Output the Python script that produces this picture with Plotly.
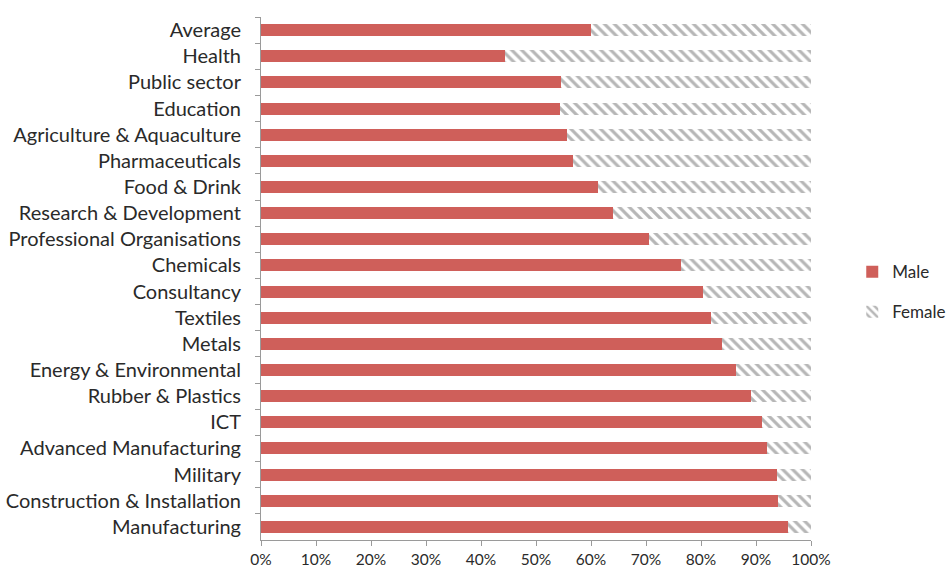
import plotly.graph_objects as go

sectors = ["Average", "Health", "Public sector", "Education", "Agriculture & Aquaculture",
           "Pharmaceuticals", "Food & Drink", "Research & Development",
           "Professional Organisations", "Chemicals", "Consultancy", "Textiles", "Metals",
           "Energy & Environmental", "Rubber & Plastics", "ICT", "Advanced Manufacturing",
           "Military", "Construction & Installation", "Manufacturing"]
male = [60.0, 44.4, 54.5, 54.3, 55.7, 56.7, 61.2, 64.0, 70.5, 76.4, 80.4, 81.9, 83.9,
        86.4, 89.1, 91.1, 92.0, 93.9, 94.0, 95.8]
female = [40.0, 55.6, 45.5, 45.7, 44.3, 43.3, 38.8, 36.0, 29.5, 23.6, 19.6, 18.1, 16.1,
          13.6, 10.9, 8.9, 8.0, 6.1, 6.0, 4.2]
xticks = [0, 10, 20, 30, 40, 50, 60, 70, 80, 90, 100]
xticklabels = [f"{v}%" for v in xticks]

fig = go.Figure()
fig.add_trace(go.Bar(y=sectors, x=male, name="Male", orientation="h", legendgroup="m",
                     marker=dict(color="#CF5F5A", line=dict(width=0))))
fig.add_trace(go.Bar(y=sectors, x=female, name="Female", orientation="h", legendgroup="f",
                     marker=dict(color="white", line=dict(width=0),
                                 pattern=dict(shape="\\", fgcolor="#6e6e6e", bgcolor="white",
                                              size=7, solidity=0.45))))

fig.update_layout(
    width=952, height=576,
    barmode="stack", bargap=0.54,
    margin=dict(l=261, r=141, t=17, b=36, autoexpand=False),
    plot_bgcolor="white", paper_bgcolor="white",
    font=dict(family="Lato", size=20, color="#2a2a2a"),
    legend=dict(x=1.075, y=0.474, xanchor="left", yanchor="middle",
                font=dict(size=17, color="#2a2a2a"), tracegroupgap=15,
                itemwidth=30, traceorder="grouped"),
    showlegend=True,
)
fig.update_xaxes(range=[0, 100], tickvals=xticks, ticktext=xticklabels,
                 showgrid=False, zeroline=False, showline=True, linecolor="#9a9a9a",
                 ticks="outside", ticklen=5, tickcolor="#9a9a9a",
                 tickfont=dict(size=15.5))
fig.update_yaxes(autorange="reversed", showgrid=False, showline=True, linecolor="#9a9a9a",
                 ticks="outside", ticklen=5, tickcolor="#9a9a9a", tickson="boundaries",
                 ticklabelstandoff=15, tickfont=dict(size=20))

fig.write_html("out.html", config={"displayModeBar": False},
               post_script="document.body.style.margin='0';")
